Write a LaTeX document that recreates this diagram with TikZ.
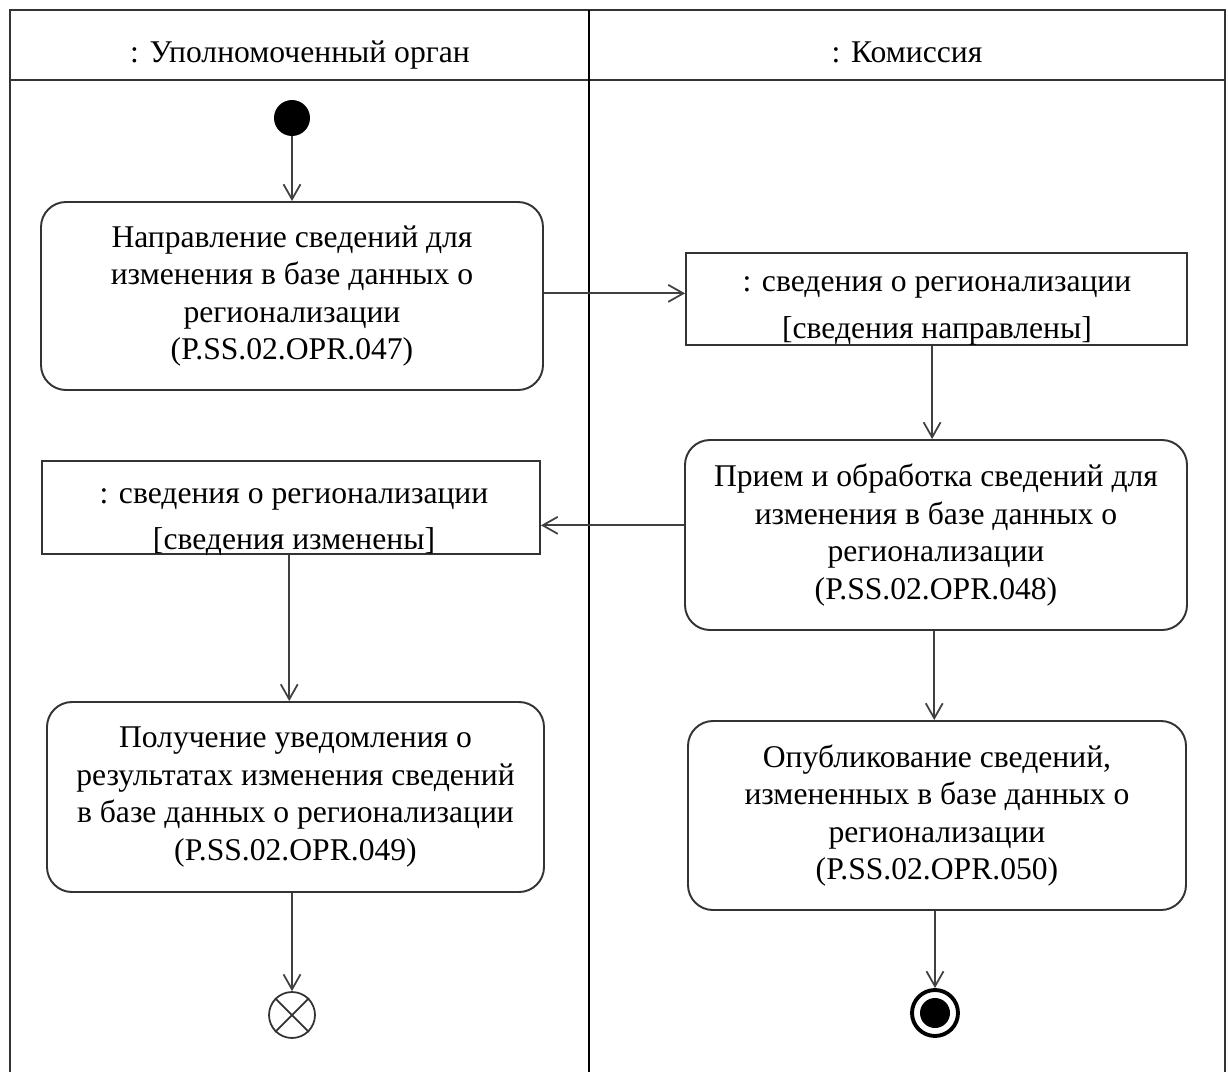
\documentclass[tikz,border=0pt]{standalone}
\usepackage{fontspec}
\setmainfont{Liberation Serif}
\usepackage{tikz}
\usetikzlibrary{positioning,arrows.meta}

\begin{document}
\begin{tikzpicture}[x=0.02cm,y=-0.02cm,font=\fontsize{18}{21.3}\selectfont]
	\tikzstyle{frame}=[draw=black!80,line width=1.6pt]
	\tikzstyle{action}=[rectangle,rounded corners=0.5cm,draw=black!80,line width=1.1pt,align=center,inner sep=0pt]
	\tikzstyle{object}=[rectangle,draw=black!80,line width=1.1pt,inner sep=0pt]
	\tikzstyle{objtext}=[align=center,inner sep=0pt]
	\tikzstyle{initial}=[circle,fill=black,minimum size=0.72cm,inner sep=0pt]
	\tikzstyle{flowfinal}=[circle,draw=black!80,line width=1pt,minimum size=0.92cm,inner sep=0pt]
	\tikzstyle{final}=[circle,draw=black,line width=2.2pt,minimum size=0.92cm,inner sep=0pt,
		path picture={\fill (path picture bounding box.center) circle (0.3cm);}]
	\tikzstyle{edge}=[-{Straight Barb[length=0.3cm,width=0.34cm]},draw=black!75,line width=1pt]

	\useasboundingbox (0,0) rectangle (1228,1072);
	% swimlanes
	\draw[frame] (10,1090) -- (10,10) -- (1225,10) -- (1225,1090);
	\draw[frame] (10,80) -- (1225,80);
	\draw[frame,draw=black] (589,10) -- (589,1090);
	\node[anchor=base] (laneOrgan) at (300,62) {: Уполномоченный орган};
	\node[anchor=base] (laneKom) at (907,62) {: Комиссия};

	\node[initial] (start) at (292,118) {};
	\node[action,minimum width=502*0.02cm,minimum height=188*0.02cm] (act047) at (292,296)
		{Направление сведений для\\изменения в базе данных о\\регионализации\\(P.SS.02.OPR.047)};
	\node[object,minimum width=501*0.02cm,minimum height=92*0.02cm] (obj1) at (936.5,299) {};
	\node[objtext] (obj1t) at (937,311) {: сведения о регионализации\\[5.3pt]\relax[сведения направлены]};
	\node[action,minimum width=502*0.02cm,minimum height=190*0.02cm] (act048) at (936,535)
		{Прием и обработка сведений для\\изменения в базе данных о\\регионализации\\(P.SS.02.OPR.048)};
	\node[object,minimum width=498*0.02cm,minimum height=93*0.02cm] (obj2) at (291,507.5) {};
	\node[objtext] (obj2t) at (294,522) {: сведения о регионализации\\[5.3pt]\relax[сведения изменены]};
	\node[action,minimum width=497*0.02cm,minimum height=190*0.02cm] (act049) at (295.5,797)
		{Получение уведомления о\\результатах изменения сведений\\в базе данных о регионализации\\(P.SS.02.OPR.049)};
	\node[action,minimum width=498*0.02cm,minimum height=189*0.02cm] (act050) at (937,815.5)
		{Опубликование сведений,\\измененных в базе данных о\\регионализации\\(P.SS.02.OPR.050)};
	\node[flowfinal] (flowEnd) at (292,1015) {};
	\draw[draw=black!80,line width=1pt] (flowEnd.north west) -- (flowEnd.south east);
	\draw[draw=black!80,line width=1pt] (flowEnd.north east) -- (flowEnd.south west);
	\node[final] (end) at (935,1013) {};

	\draw[edge] (start) -- (act047);
	\draw[edge] ([yshift=1.5pt]act047.east) -- ([yshift=1.5pt]act047.east -| obj1.west);
	\draw[edge] ([xshift=-2.5pt]obj1.south) -- ([xshift=-2.5pt]obj1.south |- act048.north);
	\draw[edge] ([yshift=5.5pt]act048.west) -- ([yshift=5.5pt]act048.west -| obj2.east);
	\draw[edge] ([xshift=-1pt]obj2.south) -- ([xshift=-1pt]obj2.south |- act049.north);
	\draw[edge] (act049.south -| flowEnd) -- (flowEnd);
	\draw[edge] ([xshift=-1pt]act048.south) -- ([xshift=-1pt]act048.south |- act050.north);
	\draw[edge] (act050.south -| end) -- (end);
\end{tikzpicture}
\end{document}
